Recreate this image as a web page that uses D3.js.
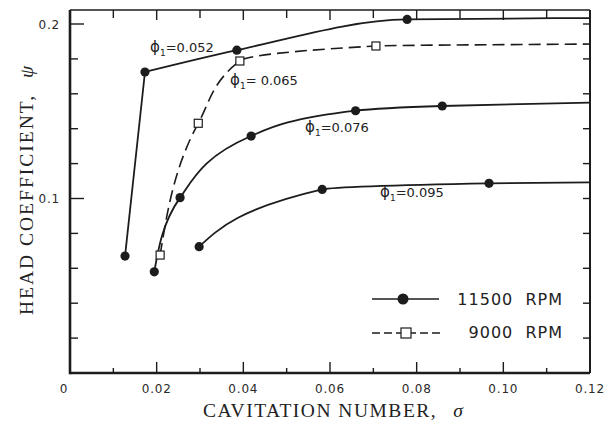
<!DOCTYPE html>
<html><head><meta charset="utf-8">
<script src="https://cdn.jsdelivr.net/npm/d3@7/dist/d3.min.js"></script>
<style>body{margin:0;background:#fff}svg{display:block}</style>
</head><body>
<svg id="c" width="604" height="429"></svg>
<script>
// ---- data ----
const sigmaTickValues = [0, 0.02, 0.04, 0.06, 0.08, 0.10, 0.12];
const sigmaTickLabels = ["0", "0.02", "0.04", "0.06", "0.08", "0.10", "0.12"];
const sigmaMinorTicks = [0.01, 0.03, 0.05, 0.07, 0.09, 0.11];
const psiTickValues = [0.02, 0.04, 0.06, 0.08, 0.10, 0.12, 0.14, 0.16, 0.18, 0.20];
const psiLabelValues = [0.1, 0.2];
const psiTickLabels = ["0.1", "0.2"];

// 11500 RPM (filled circles, solid lines): [sigma, psi]
const phi052 = [[0.0127, 0.067], [0.0173, 0.1725], [0.0385, 0.185], [0.0778, 0.2026]];
const phi076 = [[0.01945, 0.058], [0.0254, 0.1005], [0.0418, 0.1358], [0.0659, 0.1503], [0.0859, 0.1530]];
const phi095 = [[0.0298, 0.0724], [0.0582, 0.1052], [0.0967, 0.1087]];
// 9000 RPM (open squares, dashed line)
const phi065 = [[0.0208, 0.0676], [0.0296, 0.1431], [0.0392, 0.1788], [0.0706, 0.1874]];
// faired curve ends at the right frame
const phi052Tail = [0.12, 0.2034];
const phi076Tail = [0.12, 0.1550];
const phi095Tail = [0.12, 0.1092];
const phi065Tail = [0.12, 0.1885];

const curveLabels = ["0.052", "0.065", "0.076", "0.095"];
const legendLabels = ["11500  RPM", "9000  RPM"];

// ---- drawing ----
const svg = d3.select("#c");
const ink = "#1c1c1c";
const x = d3.scaleLinear().domain([0, 0.12]).range([70, 590]);
const y = d3.scaleLinear().domain([0, 0.2]).range([373, 24]);
const yTop = 0.208;

const g = svg.append("g");

// ticks (inward)
const tk = g.append("g").attr("stroke", ink).attr("stroke-width", 1.4);
sigmaTickValues.slice(1, -1).forEach(v => {
  tk.append("line").attr("x1", x(v)).attr("x2", x(v)).attr("y1", y(0)).attr("y2", y(0) - 11);
  tk.append("line").attr("x1", x(v)).attr("x2", x(v)).attr("y1", y(yTop)).attr("y2", y(yTop) + 10);
});
sigmaMinorTicks.forEach(v => {
  tk.append("line").attr("x1", x(v)).attr("x2", x(v)).attr("y1", y(0)).attr("y2", y(0) - 5);
  tk.append("line").attr("x1", x(v)).attr("x2", x(v)).attr("y1", y(yTop)).attr("y2", y(yTop) + 8);
});
psiTickValues.forEach(v => {
  const major = psiLabelValues.some(m => Math.abs(m - v) < 1e-9);
  tk.append("line").attr("x1", x(0)).attr("x2", x(0) + (major ? 14 : 8)).attr("y1", y(v)).attr("y2", y(v));
  tk.append("line").attr("x1", x(0.12)).attr("x2", x(0.12) - 7).attr("y1", y(v)).attr("y2", y(v));
});

// frame
g.append("line").attr("x1", x(0)).attr("x2", x(0.12)).attr("y1", y(yTop)).attr("y2", y(yTop)).attr("stroke", ink).attr("stroke-width", 1.6);
g.append("line").attr("x1", x(0.12)).attr("x2", x(0.12)).attr("y1", y(yTop)).attr("y2", y(0)).attr("stroke", ink).attr("stroke-width", 2);
g.append("line").attr("x1", x(0)).attr("x2", x(0.12)).attr("y1", y(0)).attr("y2", y(0)).attr("stroke", ink).attr("stroke-width", 2.6);
g.append("line").attr("x1", x(0)).attr("x2", x(0)).attr("y1", y(yTop)).attr("y2", y(0) + 1.3).attr("stroke", ink).attr("stroke-width", 2.6);

// tick labels
const lab = g.append("g").attr("font-family", "DejaVu Sans, sans-serif").attr("font-size", 12).attr("fill", "#2a2a2a").attr("letter-spacing", 0.8);
sigmaTickValues.forEach((v, i) => {
  lab.append("text").attr("x", x(v) + (i === 0 ? -6 : 0)).attr("y", 393).attr("text-anchor", "middle").text(sigmaTickLabels[i]);
});
psiLabelValues.forEach((v, i) => {
  lab.append("text").attr("x", 60).attr("y", y(v) + 4.5).attr("text-anchor", "end").text(psiTickLabels[i]);
});

// axis titles
const serif = "Liberation Serif, DejaVu Serif, serif";
const xt = g.append("text").attr("x", 203).attr("y", 417).attr("font-family", serif).attr("font-size", 19.5).attr("fill", "#222");
xt.append("tspan").attr("letter-spacing", 1.5).text("CAVITATION NUMBER,");
xt.append("tspan").attr("dx", 16).attr("font-style", "italic").text("σ");

const yt = g.append("text").attr("transform", "translate(33,315) rotate(-90)").attr("font-family", serif).attr("font-size", 19.5).attr("fill", "#222");
yt.append("tspan").attr("letter-spacing", 2).text("HEAD COEFFICIENT,");
yt.append("tspan").attr("dx", 16).attr("font-style", "italic").text("ψ");

// curves
const lineX = d3.line().x(d => x(d[0])).y(d => y(d[1])).curve(d3.curveMonotoneX);
const lineY = d3.line().x(d => x(d[0])).y(d => y(d[1])).curve(d3.curveMonotoneY);
const lineLin = d3.line().x(d => x(d[0])).y(d => y(d[1]));
const solid = p => g.append("path").attr("d", p).attr("fill", "none").attr("stroke", ink).attr("stroke-width", 1.8);

// phi = 0.052: sharp knee, straight rise, then faired curve
solid(lineLin(phi052.slice(0, 2)));
solid(lineX(phi052.slice(1).concat([phi052Tail])));
solid(lineY(phi076.concat([phi076Tail])));
solid(lineY(phi095.concat([phi095Tail])));
g.append("path").attr("d", lineY(phi065.concat([phi065Tail]))).attr("fill", "none").attr("stroke", ink)
  .attr("stroke-width", 1.6).attr("stroke-dasharray", "12,6");

// markers
[phi052, phi076, phi095].forEach(pts => {
  g.selectAll(null).data(pts).enter().append("circle")
    .attr("cx", d => x(d[0])).attr("cy", d => y(d[1])).attr("r", 4.6).attr("fill", ink);
});
g.selectAll(null).data(phi065).enter().append("rect")
  .attr("x", d => x(d[0]) - 4).attr("y", d => y(d[1]) - 4).attr("width", 8).attr("height", 8)
  .attr("fill", "#fff").attr("stroke", ink).attr("stroke-width", 1.2);

// curve labels
const labelPos = [[150, 52], [230, 85], [305, 132], [380, 197]];
labelPos.forEach(([lx, ly], i) => {
  const t = g.append("text").attr("x", lx).attr("y", ly).attr("font-family", "DejaVu Sans, sans-serif")
    .attr("font-size", 13).attr("fill", "#222");
  t.append("tspan").attr("font-size", 15).text("ϕ");
  t.append("tspan").attr("dy", 4).attr("font-size", 9).text("1");
  t.append("tspan").attr("dy", -4).text((i === 1 ? "= " : "=") + curveLabels[i]);
});

// legend
const lg = g.append("g");
lg.append("line").attr("x1", 372).attr("x2", 439).attr("y1", 299).attr("y2", 299).attr("stroke", ink).attr("stroke-width", 1.6);
lg.append("circle").attr("cx", 403).attr("cy", 299).attr("r", 5.5).attr("fill", ink);
lg.append("line").attr("x1", 372).attr("x2", 440).attr("y1", 333).attr("y2", 333).attr("stroke", ink).attr("stroke-width", 1.6).attr("stroke-dasharray", "8,4");
lg.append("rect").attr("x", 401).attr("y", 328).attr("width", 10).attr("height", 10).attr("fill", "#fff").attr("stroke", ink).attr("stroke-width", 1.2);
legendLabels.forEach((t, i) => {
  lg.append("text").attr("x", 563).attr("y", 305 + i * 33).attr("text-anchor", "end")
    .attr("font-family", "DejaVu Sans, sans-serif").attr("font-size", 16).attr("letter-spacing", 1)
    .attr("fill", "#222").attr("xml:space", "preserve").style("white-space", "pre").text(t);
});
</script>
</body></html>
